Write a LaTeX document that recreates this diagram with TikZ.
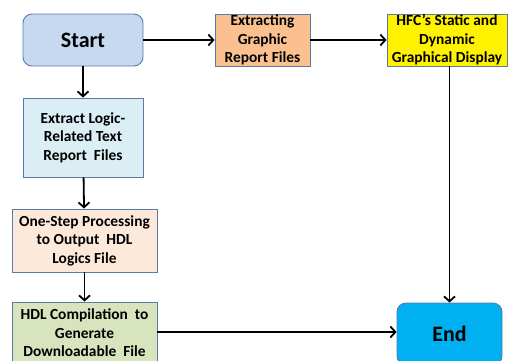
\documentclass[tikz,border=0pt]{standalone}
\usepackage{fontspec}
\setmainfont{Carlito}
\usetikzlibrary{arrows.meta}
\definecolor{boxline}{HTML}{5A7BA6}
\definecolor{startfill}{HTML}{C6D9F1}
\definecolor{logicfill}{HTML}{DBEEF4}
\definecolor{procfill}{HTML}{FDE9D9}
\definecolor{hdlfill}{HTML}{D7E4BD}
\definecolor{graphfill}{HTML}{FAC090}
\definecolor{endfill}{HTML}{00B0F0}
\tikzset{
  box/.style={draw=boxline, line width=0.9pt, font=\bfseries\fontsize{15.4}{18.5}\selectfont,
    align=center, inner sep=0pt},
  terminal/.style={box, rounded corners=9pt, font=\bfseries\fontsize{22}{24}\selectfont},
  flow/.style={draw=black, line width=1.8pt, -{Straight Barb[length=5pt,width=11pt,line width=1.8pt]}}
}
\begin{document}
\begin{tikzpicture}[x=1pt,y=-1pt]
\useasboundingbox (0,0) rectangle (510,360);
\clip (0,0) rectangle (510,360);
% terminals
\node[terminal, fill=startfill, minimum width=120pt, minimum height=52pt] (start) at (83,40) {Start};
\node[terminal, fill=endfill, minimum width=105pt, minimum height=62pt] (end) at (449.5,334) {End};
% left column
\node[box, fill=logicfill, minimum width=120pt, minimum height=79pt] (logic) at (83,137.5)
  {Extract Logic-\\Related Text\\Report\ \ Files};
\node[box, fill=procfill, minimum width=145pt, minimum height=63pt] (proc) at (84.5,240.5)
  {One-Step Processing\\to Output\ \ HDL\\Logics File};
\node[box, fill=hdlfill, minimum width=145pt, minimum height=62pt] (hdl) at (84.5,333)
  {HDL Compilation\ \ to\\Generate\\Downloadable\ \ File};
% top row
\node[box, fill=graphfill, minimum width=95pt, minimum height=52pt] (graph) at (262.5,40)
  {Extracting\\Graphic\\Report\ Files};
\node[box, fill=yellow, minimum width=120pt, minimum height=52pt] (hfc) at (447,40)
  {HFC's Static and\\Dynamic\\Graphical Display};
% connectors
\draw[flow] (start) -- (graph);
\draw[flow] (graph) -- (hfc);
\draw[flow] (start) -- (logic);
\draw[flow] (logic) -- (proc);
\draw[flow] (proc) -- (hdl);
\draw[flow] (hfc.south -| end.north) -- (end.north);
\draw[flow] (hdl.east |- 0,332) -- (end.west |- 0,332);
\end{tikzpicture}
\end{document}
